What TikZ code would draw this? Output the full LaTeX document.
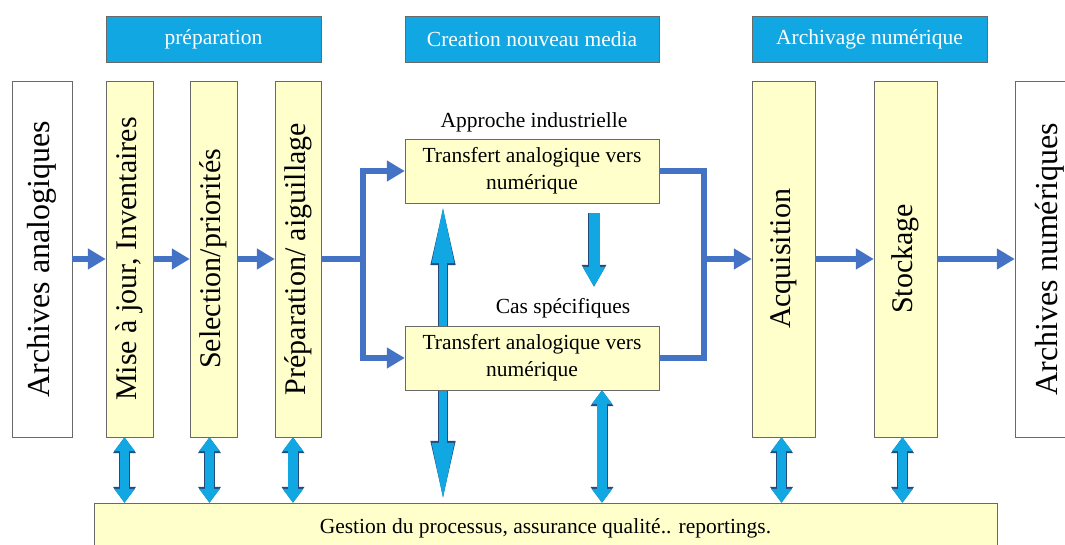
\documentclass[tikz,border=0pt]{standalone}
\usepackage{fontspec}
\setmainfont{Liberation Serif}
\newfontfamily\timesfont{Liberation Serif}
\usetikzlibrary{arrows.meta,calc}
\definecolor{headCyan}{RGB}{17,167,226}
\definecolor{flowBlue}{RGB}{68,114,196}
\definecolor{paleYellow}{RGB}{255,255,204}
\definecolor{edgeGray}{RGB}{105,105,105}
\definecolor{arrowNavy}{RGB}{35,75,125}
\tikzset{
  header/.style={draw=edgeGray, fill=headCyan, text=white, minimum height=46pt, inner sep=0pt, font=\timesfont\fontsize{21.5}{25}\selectfont},
  stage/.style={draw=edgeGray, fill=paleYellow, minimum height=356pt, inner sep=0pt, font=\timesfont\fontsize{30}{36}\selectfont},
  archive/.style={draw=edgeGray, fill=white, minimum height=356pt, inner sep=0pt, font=\timesfont\fontsize{32}{38}\selectfont},
  transfert/.style={draw=edgeGray, fill=paleYellow, minimum width=254pt, minimum height=64pt, align=center, inner sep=0pt, font=\timesfont\fontsize{21.5}{27}\selectfont},
  gestion/.style={draw=edgeGray, fill=paleYellow, minimum width=903pt, minimum height=50pt, inner sep=0pt, font=\timesfont\fontsize{21.5}{25}\selectfont},
  note/.style={inner sep=0pt, font=\timesfont\fontsize{21.5}{25}\selectfont},
  flow/.style={-{Triangle[length=18pt, width=20pt]}, line width=6pt, flowBlue},
  link/.style={line width=6pt, flowBlue},
  dbl/.style={preaction={draw=arrowNavy, line width=11pt, {Triangle[length=16pt, width=22pt]}-{Triangle[length=16pt, width=22pt]}},
    {Triangle[length=14pt, width=20pt]}-{Triangle[length=14pt, width=20pt]}, line width=9.5pt, headCyan},
  dbllong/.style={preaction={draw=arrowNavy, line width=10pt, {Triangle[length=62pt, width=22pt]}-{Triangle[length=62pt, width=22pt]}},
    {Triangle[length=60pt, width=20pt]}-{Triangle[length=60pt, width=20pt]}, line width=8.5pt, headCyan},
  down/.style={preaction={draw=arrowNavy, line width=12.5pt, -{Triangle[length=22pt, width=23pt]}},
    -{Triangle[length=20pt, width=21pt]}, line width=11pt, headCyan}
}

\begin{document}
\begin{tikzpicture}[x=1pt,y=-1pt]
  \useasboundingbox (0,0) rectangle (1065,545);

  \node[header, minimum width=215pt] (hprep) at (213.5,39) {préparation};
  \node[header, minimum width=254pt] (hcrea) at (532,39) {Creation nouveau media};
  \node[header, minimum width=235pt] (harch) at (869.5,39) {Archivage numérique};

  \node[archive, minimum width=60pt] (archA) at (42,259) {\rotatebox{90}{Archives analogiques}};
  \node[stage, minimum width=47pt] (mise) at (129.5,259) {\rotatebox{90}{Mise à jour, Inventaires}};
  \node[stage, minimum width=47pt] (selec) at (213.5,259) {\rotatebox{90}{Selection/priorités}};
  \node[stage, minimum width=46pt] (prep) at (298,259) {\rotatebox{90}{Préparation/ aiguillage}};
  \node[stage, minimum width=63pt] (acq) at (783.5,259) {\rotatebox{90}{Acquisition}};
  \node[stage, minimum width=63pt] (stock) at (905.5,259) {\rotatebox{90}{Stockage}};
  \node[archive, minimum width=70pt] (archN) at (1050,259) {\rotatebox{90}{Archives numériques}};

  \node[note] (appro) at (534,122) {Approche industrielle};
  \node[transfert] (t1) at (532,171) {Transfert analogique vers\\numérique};
  \node[note] (cas) at (563,308) {Cas spécifiques};
  \node[gestion] (gest) at (545.5,528) {Gestion du processus, assurance qualité.. reportings.};

  % long link behind the second transfer box
  \draw[dbllong] ([xshift=-89pt]t1.south) -- ([xshift=-89pt]t1.south |- gest.north);
  \node[transfert] (t2) at (532,358) {Transfert analogique vers\\numérique};

  \coordinate (split) at (363,259);
  \coordinate (merge) at (704,259);

  \draw[flow] (archA) -- (mise);
  \draw[flow] (mise) -- (selec);
  \draw[flow] (selec) -- (prep);
  \draw[link] (prep) -- (split);
  \draw[flow] (split) |- (t1.west);
  \draw[flow] (split) |- (t2.west);
  \draw[link] (t1.east) -| (merge);
  \draw[link] (t2.east) -| (merge);
  \draw[flow] (merge) -- (acq);
  \draw[flow] (acq) -- (stock);
  \draw[flow] (stock) -- (archN);

  \draw[down] ([xshift=62pt,yshift=-10pt]t1.south) -- ([xshift=62pt,yshift=11pt]t1.south |- cas.north);

  \draw[dbl] ([xshift=-5pt]mise.south) -- ([xshift=-5pt]mise.south |- gest.north);
  \draw[dbl] ([xshift=-4pt]selec.south) -- ([xshift=-4pt]selec.south |- gest.north);
  \draw[dbl] ([xshift=-5pt]prep.south) -- ([xshift=-5pt]prep.south |- gest.north);
  \draw[dbl] ([xshift=70pt]t2.south) -- ([xshift=70pt]t2.south |- gest.north);
  \draw[dbl] ([xshift=-2pt]acq.south) -- ([xshift=-2pt]acq.south |- gest.north);
  \draw[dbl] ([xshift=-3pt]stock.south) -- ([xshift=-3pt]stock.south |- gest.north);
\end{tikzpicture}
\end{document}
